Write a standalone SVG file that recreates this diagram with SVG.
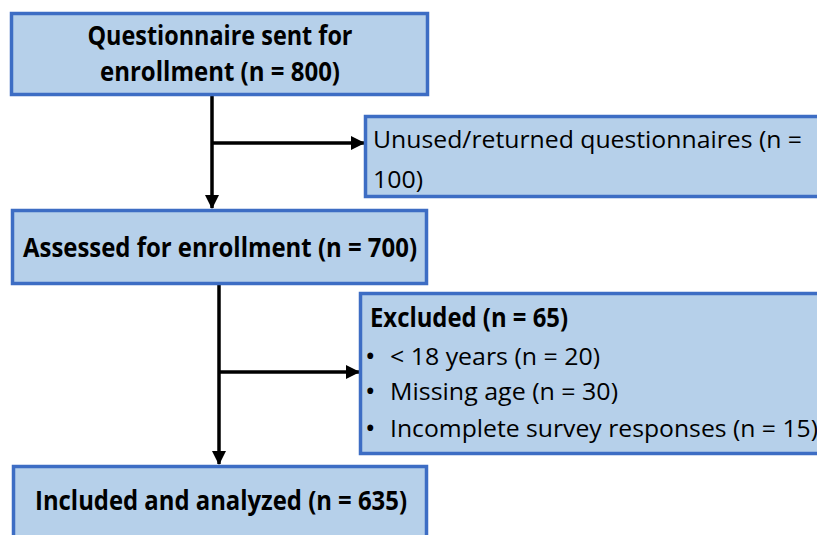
<svg xmlns="http://www.w3.org/2000/svg" width="817" height="535" viewBox="0 0 817 535">
<style>
.box{fill:#b6d0ea;stroke:#3d6dc4;stroke-width:3.5}
.t{font-family:"Open Sans","Liberation Sans",sans-serif;fill:#000}
.b{font-weight:bold;font-size:26px}
.r{font-size:23.5px}
.d{font-size:28px}
.c{stroke:#000;stroke-width:3.5;fill:none}
</style>
<defs>
<marker id="ah" markerUnits="userSpaceOnUse" markerWidth="14" markerHeight="14" viewBox="0 0 14 14" refX="13" refY="7" orient="auto">
<path d="M0,0 L14,7 L0,14 Z" fill="#000"/>
</marker>
</defs>
<rect width="817" height="535" fill="#fff"/>
<g id="connectors">
<line class="c" x1="212" y1="95" x2="212" y2="208" marker-end="url(#ah)"/>
<line class="c" x1="212" y1="143" x2="364" y2="143" marker-end="url(#ah)"/>
<line class="c" x1="219" y1="285" x2="219" y2="464" marker-end="url(#ah)"/>
<line class="c" x1="219" y1="372" x2="359" y2="372" marker-end="url(#ah)"/>
</g>
<g id="n1">
<rect class="box" x="11.5" y="13.5" width="416" height="81"/>
<text class="t b" x="220" y="45" text-anchor="middle" textLength="265" lengthAdjust="spacingAndGlyphs">Questionnaire sent for</text>
<text class="t b" x="220" y="81" text-anchor="middle" textLength="240" lengthAdjust="spacingAndGlyphs">enrollment (n = 800)</text>
</g>
<g id="n2">
<rect class="box" x="365.5" y="116.5" width="460" height="80"/>
<text class="t r" x="373" y="148" textLength="429" lengthAdjust="spacingAndGlyphs">Unused/returned questionnaires (n =</text>
<text class="t r" x="373" y="188" textLength="50" lengthAdjust="spacingAndGlyphs">100)</text>
</g>
<g id="n3">
<rect class="box" x="12.5" y="210.5" width="414" height="73"/>
<text class="t b" x="220" y="257" text-anchor="middle" textLength="394" lengthAdjust="spacingAndGlyphs">Assessed for enrollment (n = 700)</text>
</g>
<g id="n4">
<rect class="box" x="360.5" y="293.5" width="470" height="160"/>
<text class="t b" x="370" y="327" textLength="198" lengthAdjust="spacingAndGlyphs">Excluded (n = 65)</text>
<text class="t d" x="365" y="366">•</text>
<text class="t r" x="390" y="365" textLength="210" lengthAdjust="spacingAndGlyphs">&lt; 18 years (n = 20)</text>
<text class="t d" x="365" y="401">•</text>
<text class="t r" x="390" y="400" textLength="228" lengthAdjust="spacingAndGlyphs">Missing age (n = 30)</text>
<text class="t d" x="365" y="438">•</text>
<text class="t r" x="390" y="437" textLength="428" lengthAdjust="spacingAndGlyphs">Incomplete survey responses (n = 15)</text>
</g>
<g id="n5">
<rect class="box" x="13.5" y="466.5" width="413" height="100"/>
<text class="t b" x="221" y="510" text-anchor="middle" textLength="372" lengthAdjust="spacingAndGlyphs">Included and analyzed (n = 635)</text>
</g>
</svg>
